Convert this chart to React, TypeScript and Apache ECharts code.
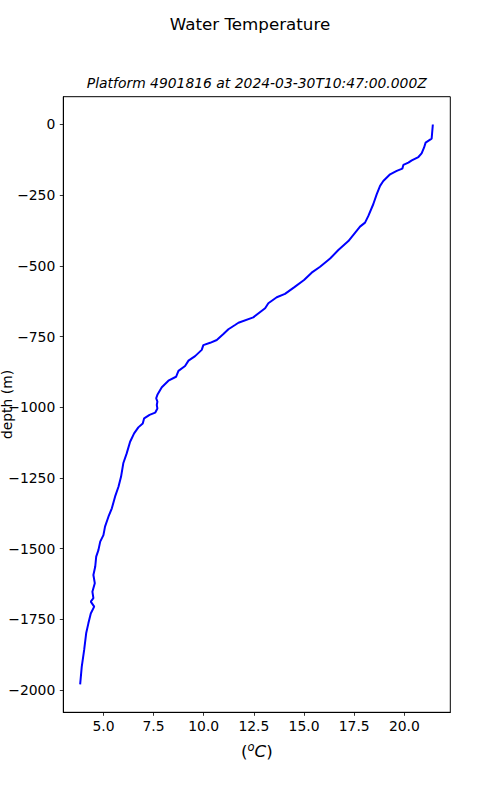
import React, { useEffect, useRef } from "react";
import * as echarts from "echarts";

const depths: number[] = [
  0, -50, -64, -82, -102, -115, -127, -135, -143, -156, -164, -176, -200, -217, -247, -282,
  -324, -347, -361, -383, -412, -444, -474, -503, -524, -550, -575, -599, -611, -632, -650,
  -682, -701, -709, -724, -741, -762, -772, -780, -797, -819, -835, -854, -871, -892, -906,
  -929, -956, -968, -980, -992, -1004, -1019, -1027, -1039, -1057, -1071, -1092, -1122,
  -1163, -1198, -1245, -1281, -1316, -1357, -1387, -1422, -1452, -1475, -1505, -1528,
  -1564, -1593, -1622, -1652, -1675, -1687, -1705, -1729, -1764, -1799, -1858, -1917, -1980,
];

const temperatures: number[] = [
  21.42, 21.36, 21.06, 20.98, 20.86, 20.7, 20.37, 20.2, 19.95, 19.9, 19.62, 19.29, 18.95,
  18.79, 18.62, 18.45, 18.2, 18.04, 17.79, 17.54, 17.21, 16.71, 16.3, 15.8, 15.38, 15.0,
  14.52, 14.05, 13.64, 13.22, 13.06, 12.47, 11.73, 11.56, 11.23, 10.98, 10.65, 10.32, 9.98,
  9.9, 9.57, 9.24, 9.07, 8.74, 8.62, 8.24, 7.91, 7.69, 7.63, 7.69, 7.66, 7.69, 7.58, 7.3,
  7.03, 6.96, 6.74, 6.53, 6.33, 6.16, 5.99, 5.88, 5.75, 5.58, 5.42, 5.25, 5.08, 5.0, 4.84,
  4.75, 4.64, 4.59, 4.5, 4.57, 4.45, 4.5, 4.37, 4.54, 4.37, 4.25, 4.14, 4.04, 3.92, 3.84,
];

const xTicks: number[] = [5, 7.5, 10, 12.5, 15, 17.5, 20];
const yTicks: number[] = [0, -250, -500, -750, -1000, -1250, -1500, -1750, -2000];

const titleText = "Water Temperature";
const subtitleText = "Platform 4901816 at 2024-03-30T10:47:00.000Z";
const yLabel = "depth (m)";

const FONT = "DejaVu Sans";

export default function App() {
  const ref = useRef<HTMLDivElement>(null);

  useEffect(() => {
    if (!ref.current) return;
    const chart = echarts.init(ref.current, undefined, { renderer: "svg" });
    const data = depths.map((d, i) => [temperatures[i], d]);
    chart.setOption({
      animation: false,
      backgroundColor: "#ffffff",
      grid: {
        left: 63.3,
        right: 49.7,
        top: 96.7,
        bottom: 87.7,
        show: true,
        borderColor: "#000",
        borderWidth: 1,
        backgroundColor: "transparent",
      },
      xAxis: {
        type: "value",
        min: 3.0,
        max: 22.29,
        splitLine: { show: false },
        axisLine: { show: true, onZero: false, lineStyle: { color: "#000", width: 1 } },
        axisTick: {
          show: true,
          inside: false,
          length: 3.5,
          lineStyle: { color: "#000", width: 0.8 },
          customValues: xTicks,
        },
        axisLabel: {
          show: true,
          margin: 7,
          color: "#000",
          fontFamily: FONT,
          fontSize: 13.9,
          customValues: xTicks,
          formatter: (v: number) => v.toFixed(1),
        },
      },
      yAxis: {
        type: "value",
        min: -2078.5,
        max: 98.3,
        splitLine: { show: false },
        axisLine: { show: true, onZero: false, lineStyle: { color: "#000", width: 1 } },
        axisTick: {
          show: true,
          inside: false,
          length: 3.5,
          lineStyle: { color: "#000", width: 0.8 },
          customValues: yTicks,
        },
        axisLabel: {
          show: true,
          margin: 8,
          color: "#000",
          fontFamily: FONT,
          fontSize: 13.9,
          customValues: yTicks,
          formatter: (v: number) => String(v).replace("-", "\u2212"),
        },
      },
      series: [
        {
          type: "line",
          data,
          showSymbol: false,
          symbol: "none",
          lineStyle: { color: "#0000ff", width: 2 },
          itemStyle: { color: "#0000ff" },
          z: 3,
        },
      ],
      graphic: [
        {
          type: "text",
          x: 250,
          y: 24,
          style: {
            text: titleText,
            fontFamily: FONT,
            fontSize: 16.7,
            fill: "#000",
            textAlign: "center",
            textVerticalAlign: "middle",
          },
        },
        {
          type: "text",
          x: 256.8,
          y: 82.7,
          style: {
            text: subtitleText,
            fontFamily: FONT,
            fontSize: 13.9,
            fontStyle: "italic",
            fill: "#000",
            textAlign: "center",
            textVerticalAlign: "middle",
          },
        },
        {
          type: "text",
          x: 6.5,
          y: 404.5,
          rotation: Math.PI / 2,
          style: {
            text: yLabel,
            fontFamily: FONT,
            fontSize: 13.9,
            fill: "#000",
            textAlign: "center",
            textVerticalAlign: "middle",
          },
        },
        {
          type: "text",
          x: 256.8,
          y: 751,
          style: {
            text: "({s|o}{c|C})",
            fontFamily: FONT,
            fontSize: 16.7,
            fill: "#000",
            textAlign: "center",
            textVerticalAlign: "middle",
            rich: {
              s: {
                fontFamily: FONT,
                fontSize: 11.5,
                fontStyle: "italic",
                fill: "#000",
                padding: [0, 0, 8, 0],
              },
              c: {
                fontFamily: FONT,
                fontSize: 16.7,
                fontStyle: "italic",
                fill: "#000",
              },
            },
          },
        },
      ],
    });
    return () => chart.dispose();
  }, []);

  return (
    <div
      ref={ref}
      style={{ position: "absolute", left: 0, top: 0, width: 500, height: 800 }}
    />
  );
}
